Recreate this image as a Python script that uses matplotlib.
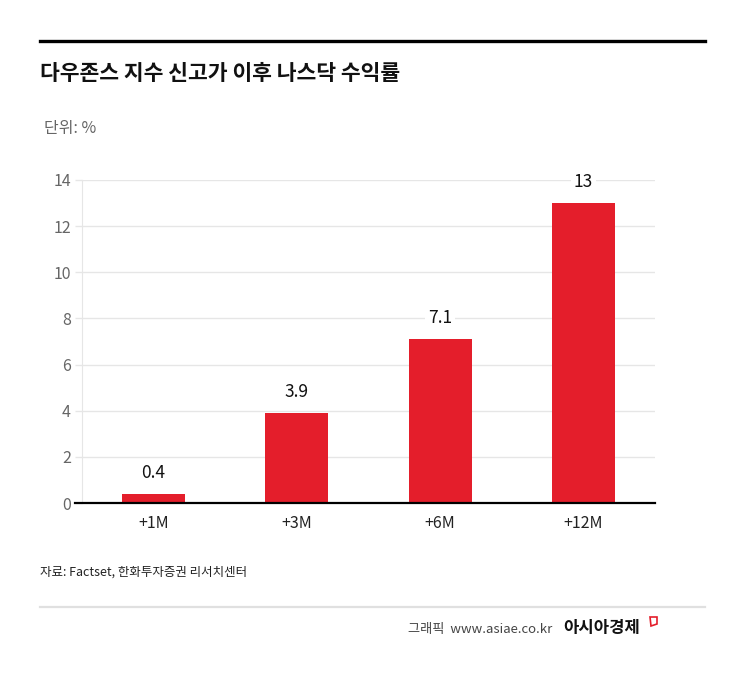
import matplotlib
matplotlib.use("Agg")
from matplotlib import pyplot as plt
from matplotlib.lines import Line2D
from matplotlib.patches import Polygon

plt.rcParams['font.family'] = ['Noto Sans CJK KR', 'DejaVu Sans']

# chart data
categories = ["+1M", "+3M", "+6M", "+12M"]
returns = [0.4, 3.9, 7.1, 13]
y_ticks = [0, 2, 4, 6, 8, 10, 12, 14]

title = "다우존스 지수 신고가 이후 나스닥 수익률"
unit = "단위: %"
source = "자료: Factset, 한화투자증권 리서치센터"

W, H = 745, 687
fig = plt.figure(figsize=(W / 100, H / 100), dpi=100)
fig.patch.set_facecolor("white")

# pixel helpers
def fx(px):
    return px / W

def fy(py):
    return 1 - py / H

ax = fig.add_axes([fx(82), fy(503), fx(655) - fx(82), fy(180) - fy(503)])

x = list(range(len(categories)))
ax.bar(x, returns, width=0.44, color="#e41e2b", zorder=3)

# value labels with white box over the grid
for xi, v in zip(x, returns):
    ax.annotate(f"{v:g}", (xi, v), xytext=(0, 15), textcoords="offset points",
                ha="center", va="center", fontsize=12.5, color="#111111",
                bbox=dict(boxstyle="square,pad=0.15", fc="white", ec="none"),
                zorder=4)

ax.set_xlim(-0.5, 3.5)
ax.set_ylim(0, 14)
ax.set_yticks(y_ticks)
ax.set_xticks(x)
ax.set_xticklabels(categories)
ax.grid(axis="y", color="#e6e6e6", linewidth=1, zorder=0)
ax.tick_params(axis="y", colors="#e6e6e6", labelcolor="#666666", labelsize=11.5,
               length=5, width=1, pad=3)
ax.tick_params(axis="x", length=0, labelsize=11.5, labelcolor="#222222", pad=9)
for s in ["top", "right", "bottom"]:
    ax.spines[s].set_visible(False)
ax.spines["left"].set_color("#e6e6e6")

# black baseline
ax.add_line(Line2D([-0.012, 1], [0, 0], transform=ax.get_yaxis_transform(),
                   color="black", linewidth=1.6, clip_on=False, zorder=5))

# header and footer
fig.add_artist(Line2D([fx(40), fx(705)], [fy(41), fy(41)], color="black", linewidth=2.4))
fig.text(fx(40), fy(74), title, fontsize=15.5, fontweight="bold", color="#111111",
         ha="left", va="center")
fig.text(fx(44), fy(128), unit, fontsize=11.5, color="#666666", ha="left", va="center")
fig.text(fx(40), fy(572), source, fontsize=9, color="#222222", ha="left", va="center")
fig.add_artist(Line2D([fx(40), fx(705)], [fy(607), fy(607)], color="#e0e0e0", linewidth=1.6))
fig.text(fx(552), fy(629), "그래픽  www.asiae.co.kr", fontsize=9.5, color="#444444",
         ha="right", va="center")
fig.text(fx(563), fy(628), "아시아경제", fontsize=12, fontweight="bold", color="#111111",
         ha="left", va="center")
icon = [(650, 617), (657, 617), (657, 624), (651, 626)]
fig.add_artist(Polygon([(fx(a), fy(b)) for a, b in icon], closed=True,
                       fill=False, edgecolor="#e41e2b", linewidth=1.2))

fig.savefig("out.png", dpi=100)
